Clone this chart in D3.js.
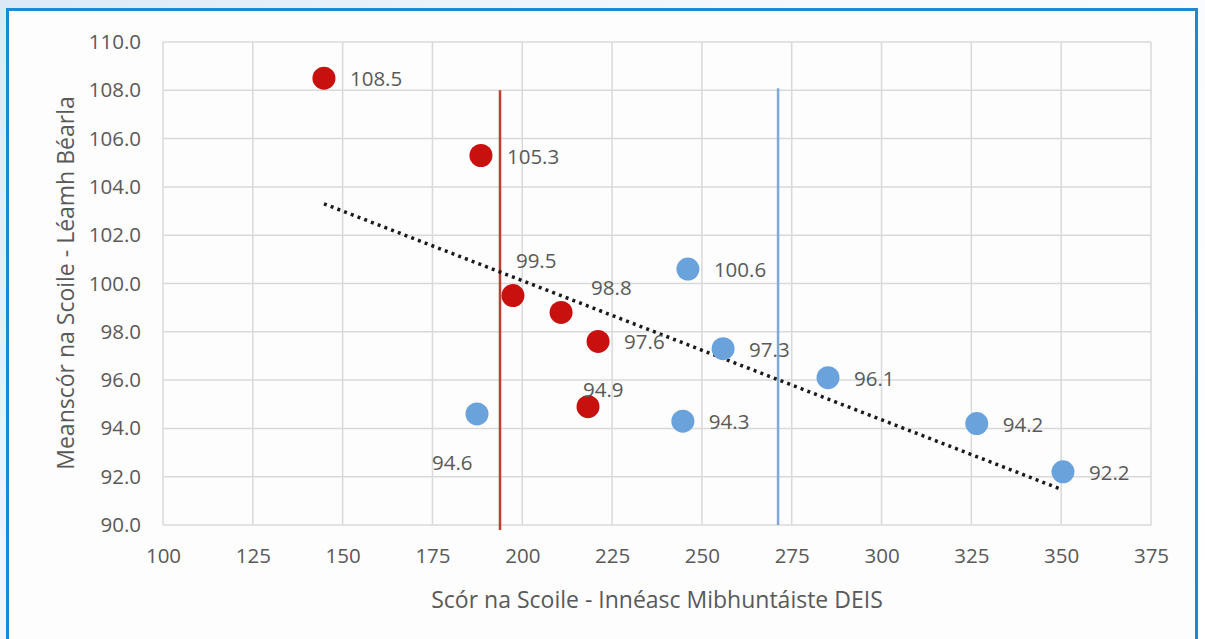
<!DOCTYPE html>
<html>
<head>
<meta charset="utf-8">
<script src="https://cdn.jsdelivr.net/npm/d3@7"></script>
<style>
  html, body { margin: 0; padding: 0; }
  body { width: 1205px; height: 639px; overflow: hidden;
         background: linear-gradient(135deg, #dbe9f7 0%, #f4f8fc 40%, #ffffff 100%); }
  svg { display: block; }
  text { font-family: "Open Sans", sans-serif; fill: #595959; }
</style>
</head>
<body>
<div id="chart"></div>
<script>
// school scores (x) vs mean reading score (y)
var redX = [144.8, 188.5, 197.4, 210.8, 221.1, 218.3];
var redY = [108.5, 105.3, 99.5, 98.8, 97.6, 94.9];
var blueX = [187.4, 246.1, 255.9, 244.7, 285.1, 326.5, 350.5];
var blueY = [94.6, 100.6, 97.3, 94.3, 96.1, 94.2, 92.2];

var xTicks = [100, 125, 150, 175, 200, 225, 250, 275, 300, 325, 350, 375];
var yTicks = [90, 92, 94, 96, 98, 100, 102, 104, 106, 108, 110];

// vertical reference lines (x value, top y value)
var redLineX = 193.8;
var blueLineX = 271.2;
var refLineTop = 108.0;

// dotted trendline end points
var trendX = [144.8, 349.6];
var trendY = [103.3, 91.5];

var xTitle = "Scór na Scoile - Innéasc Mibhuntáiste DEIS";
var yTitle = "Meanscór na Scoile - Léamh Béarla";

function scatter() {
    var w = 1205;
    var h = 639;

    var svg = d3.select("#chart")
            .append("svg")
            .attr("width", w)
            .attr("height", h);

    // white framed panel
    svg.append("rect")
        .attr("x", 7.5)
        .attr("y", 9.5)
        .attr("width", 1189)
        .attr("height", 640)
        .attr("fill", "#fdfdfd")
        .attr("stroke", "#1e88d0")
        .attr("stroke-width", 3);

    var x = d3.scaleLinear().domain([100, 375]).range([163, 1151]);
    var y = d3.scaleLinear().domain([90, 110]).range([525, 42]);

    // grid
    svg.append("g")
        .selectAll("line")
        .data(xTicks)
        .enter()
        .append("line")
        .attr("x1", function(d) { return x(d); })
        .attr("x2", function(d) { return x(d); })
        .attr("y1", y(110))
        .attr("y2", y(90))
        .attr("stroke", "#d9d9d9")
        .attr("stroke-width", 1.5);

    svg.append("g")
        .selectAll("line")
        .data(yTicks)
        .enter()
        .append("line")
        .attr("x1", x(100))
        .attr("x2", x(375))
        .attr("y1", function(d) { return y(d); })
        .attr("y2", function(d) { return y(d); })
        .attr("stroke", "#d9d9d9")
        .attr("stroke-width", 1.5);

    // axes (labels only)
    var xAxis = svg.append("g")
        .attr("transform", "translate(0," + y(90) + ")")
        .call(d3.axisBottom(x).tickValues(xTicks).tickSize(0).tickPadding(23));
    var yAxis = svg.append("g")
        .attr("transform", "translate(" + x(100) + ",0)")
        .call(d3.axisLeft(y).tickValues(yTicks).tickSize(0).tickPadding(22)
              .tickFormat(d3.format(".1f")));
    [xAxis, yAxis].forEach(function(g) {
        g.select(".domain").remove();
        g.selectAll("text")
            .attr("fill", "#595959")
            .style("font-size", "20.5px")
            .style("font-family", "'Open Sans', sans-serif");
    });

    // reference lines
    svg.append("line")
        .attr("x1", x(redLineX)).attr("x2", x(redLineX))
        .attr("y1", y(refLineTop)).attr("y2", y(90) + 5)
        .attr("stroke", "#b8412f")
        .attr("stroke-width", 2.5);
    svg.append("line")
        .attr("x1", x(blueLineX)).attr("x2", x(blueLineX))
        .attr("y1", y(refLineTop) - 2).attr("y2", y(90))
        .attr("stroke", "#7ea9d8")
        .attr("stroke-width", 2.5);

    // trendline
    svg.append("line")
        .attr("x1", x(trendX[0])).attr("y1", y(trendY[0]))
        .attr("x2", x(trendX[1])).attr("y2", y(trendY[1]))
        .attr("stroke", "#1a1a1a")
        .attr("stroke-width", 3.5)
        .attr("stroke-dasharray", "3,4.2");

    var red = redX.map(function(d, i) { return { x: d, y: redY[i] }; });
    var blue = blueX.map(function(d, i) { return { x: d, y: blueY[i] }; });

    svg.selectAll("circle.blue")
        .data(blue)
        .enter()
        .append("circle")
        .attr("class", "blue")
        .attr("cx", function(d) { return x(d.x); })
        .attr("cy", function(d) { return y(d.y); })
        .attr("r", 11.5)
        .attr("fill", "#6aa3db");

    svg.selectAll("circle.red")
        .data(red)
        .enter()
        .append("circle")
        .attr("class", "red")
        .attr("cx", function(d) { return x(d.x); })
        .attr("cy", function(d) { return y(d.y); })
        .attr("r", 11.5)
        .attr("fill", "#c8100e");

    // data labels, mostly right of the point
    var labelOffset = {
        "99.5": [3, -28],
        "98.8": [30, -17],
        "94.9": [-5, -10],
        "94.6": [-45, 56]
    };
    var all = red.concat(blue);
    svg.selectAll("text.lbl")
        .data(all)
        .enter()
        .append("text")
        .attr("class", "lbl")
        .attr("x", function(d) {
            var o = labelOffset[d.y.toFixed(1)];
            return x(d.x) + (o ? o[0] : 26);
        })
        .attr("y", function(d) {
            var o = labelOffset[d.y.toFixed(1)];
            return y(d.y) + (o ? o[1] : 8);
        })
        .style("font-size", "20.5px")
        .text(function(d) { return d.y.toFixed(1); });

    // titles
    svg.append("text")
        .attr("x", 657)
        .attr("y", 608)
        .attr("text-anchor", "middle")
        .style("font-size", "23px")
        .text(xTitle);

    svg.append("text")
        .attr("transform", "translate(74,283) rotate(-90)")
        .attr("text-anchor", "middle")
        .style("font-size", "23px")
        .text(yTitle);
}

window.onload = scatter;
</script>
</body>
</html>
